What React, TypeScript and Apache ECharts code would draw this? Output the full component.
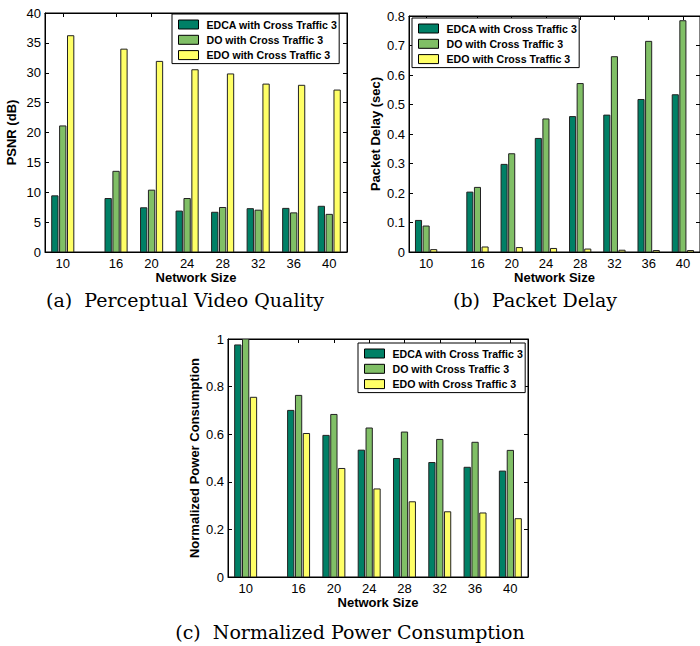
import React, { useEffect, useRef } from "react";
import * as echarts from "echarts";

const networkSizes = [10, 16, 20, 24, 28, 32, 36, 40];
const seriesNames = ["EDCA with Cross Traffic 3", "DO with Cross Traffic 3", "EDO with Cross Traffic 3"];
const seriesColors = ["#008066", "#80bf66", "#ffff66"];

const psnrEDCA = [9.4, 8.95, 7.4, 6.85, 6.65, 7.25, 7.3, 7.65];
const psnrDO = [21.1, 13.5, 10.35, 8.95, 7.45, 7.0, 6.55, 6.3];
const psnrEDO = [36.2, 33.95, 31.9, 30.5, 29.8, 28.1, 27.9, 27.1];

const delayEDCA = [0.107, 0.203, 0.297, 0.385, 0.459, 0.464, 0.517, 0.533];
const delayDO = [0.088, 0.219, 0.333, 0.451, 0.571, 0.662, 0.714, 0.784];
const delayEDO = [0.008, 0.017, 0.015, 0.012, 0.01, 0.006, 0.005, 0.005];

const powerEDCA = [0.975, 0.7, 0.595, 0.533, 0.498, 0.481, 0.461, 0.445];
const powerDO = [1.0, 0.763, 0.683, 0.626, 0.609, 0.578, 0.566, 0.532];
const powerEDO = [0.755, 0.603, 0.456, 0.37, 0.316, 0.274, 0.269, 0.245];

const SANS = "Liberation Sans";

const panels = [
  {
    grid: { left: 45, top: 13, width: 302, height: 239 },
    yName: "PSNR (dB)",
    yMax: 40,
    yInterval: 5,
    values: [psnrEDCA, psnrDO, psnrEDO],
    legend: { left: 172, top: 14 },
  },
  {
    grid: { left: 409, top: 16, width: 297.5, height: 236 },
    yName: "Packet Delay (sec)",
    yMax: 0.8,
    yInterval: 0.1,
    values: [delayEDCA, delayDO, delayEDO],
    legend: { left: 412, top: 18 },
  },
  {
    grid: { left: 228, top: 339, width: 300, height: 238 },
    yName: "Normalized Power Consumption",
    yMax: 1,
    yInterval: 0.2,
    values: [powerEDCA, powerDO, powerEDO],
    legend: { left: 358, top: 343 },
  },
];

const captions = [
  { text: "(a)\u00a0\u00a0Perceptual Video Quality", x: 185, y: 300 },
  { text: "(b)\u00a0\u00a0Packet Delay", x: 535, y: 300 },
  { text: "(c)\u00a0\u00a0Normalized Power Consumption", x: 350, y: 632 },
];

const SLOT = 0.889;
const BAR_W = 0.711;

export default function App() {
  const ref = useRef<HTMLDivElement>(null);
  useEffect(() => {
    document.body.style.margin = "0";
    if (!ref.current) return;
    const chart = echarts.init(ref.current, null, { renderer: "svg" });

    const grids: any[] = [];
    const xAxes: any[] = [];
    const yAxes: any[] = [];
    const series: any[] = [];
    const legends: any[] = [];

    panels.forEach((p, i) => {
      grids.push({ ...p.grid, show: true, borderColor: "#000", borderWidth: 1, backgroundColor: "#fff", containLabel: false });
      const xBase = {
        type: "value",
        gridIndex: i,
        min: 8,
        max: 42,
        splitLine: { show: false },
        axisLine: { show: true, onZero: false, lineStyle: { color: "#000", width: 1 } },
      };
      xAxes.push({
        ...xBase,
        position: "bottom",
        axisTick: { show: true, inside: true, length: 4, customValues: networkSizes, lineStyle: { color: "#000" } },
        axisLabel: { show: true, customValues: networkSizes, fontSize: 13, color: "#000", fontFamily: SANS, margin: 5 },
        name: "Network Size",
        nameLocation: "middle",
        nameGap: 18,
        nameTextStyle: { fontSize: 13, fontWeight: "bold", color: "#000", fontFamily: SANS },
      });
      xAxes.push({
        ...xBase,
        position: "top",
        axisTick: { show: true, inside: true, length: 4, customValues: networkSizes, lineStyle: { color: "#000" } },
        axisLabel: { show: false },
      });
      const yBase = {
        type: "value",
        gridIndex: i,
        min: 0,
        max: p.yMax,
        interval: p.yInterval,
        splitLine: { show: false },
        axisLine: { show: true, onZero: false, lineStyle: { color: "#000", width: 1 } },
        axisTick: { show: true, inside: true, length: 4, lineStyle: { color: "#000" } },
      };
      yAxes.push({
        ...yBase,
        position: "left",
        axisLabel: { show: true, fontSize: 13, color: "#000", fontFamily: SANS, margin: 4 },
        name: p.yName,
        nameLocation: "middle",
        nameGap: 27,
        nameTextStyle: { fontSize: 13, fontWeight: "bold", color: "#000", fontFamily: SANS },
      });
      yAxes.push({ ...yBase, position: "right", axisLabel: { show: false } });

      p.values.forEach((vals, k) => {
        const offset = (k - 1) * SLOT;
        series.push({
          type: "custom",
          name: seriesNames[k],
          xAxisIndex: 2 * i,
          yAxisIndex: 2 * i,
          itemStyle: { color: seriesColors[k], borderColor: "#000", borderWidth: 1 },
          encode: { x: 0, y: 1 },
          data: networkSizes.map((n, j) => [n, vals[j]]),
          clip: true,
          renderItem: (params: any, api: any) => {
            const x = api.value(0);
            const y = api.value(1);
            const tl = api.coord([x + offset - BAR_W / 2, y]);
            const br = api.coord([x + offset + BAR_W / 2, 0]);
            return {
              type: "rect",
              shape: { x: tl[0], y: tl[1], width: br[0] - tl[0], height: br[1] - tl[1] },
              style: { fill: seriesColors[k], stroke: "#222", lineWidth: 1 },
            };
          },
        });
      });

      legends.push({
        orient: "vertical",
        left: p.legend.left,
        top: p.legend.top,
        padding: [5, 2, 3, 6],
        itemWidth: 20,
        itemHeight: 9,
        itemGap: 4.3,
        icon: "rect",
        backgroundColor: "#fff",
        borderColor: "#000",
        borderWidth: 1,
        selectedMode: false,
        itemStyle: { borderColor: "#000", borderWidth: 1 },
        textStyle: { fontSize: 10.6, fontWeight: "bold", color: "#000", fontFamily: SANS, lineHeight: 9, padding: [0, 0, 0, 3] },
        data: seriesNames.map((n, k) => ({ name: n, itemStyle: { color: seriesColors[k] } })),
      });
    });

    chart.setOption({
      animation: false,
      backgroundColor: "#fff",
      grid: grids,
      xAxis: xAxes,
      yAxis: yAxes,
      legend: legends,
      series,
      graphic: captions.map((c) => ({
        type: "text",
        x: c.x,
        y: c.y,
        style: {
          text: c.text,
          fill: "#000",
          font: "19px 'DejaVu Serif'",
          textAlign: "center",
          textVerticalAlign: "middle",
        },
      })),
    });
    return () => chart.dispose();
  }, []);
  return <div ref={ref} style={{ width: 700, height: 646 }} />;
}
